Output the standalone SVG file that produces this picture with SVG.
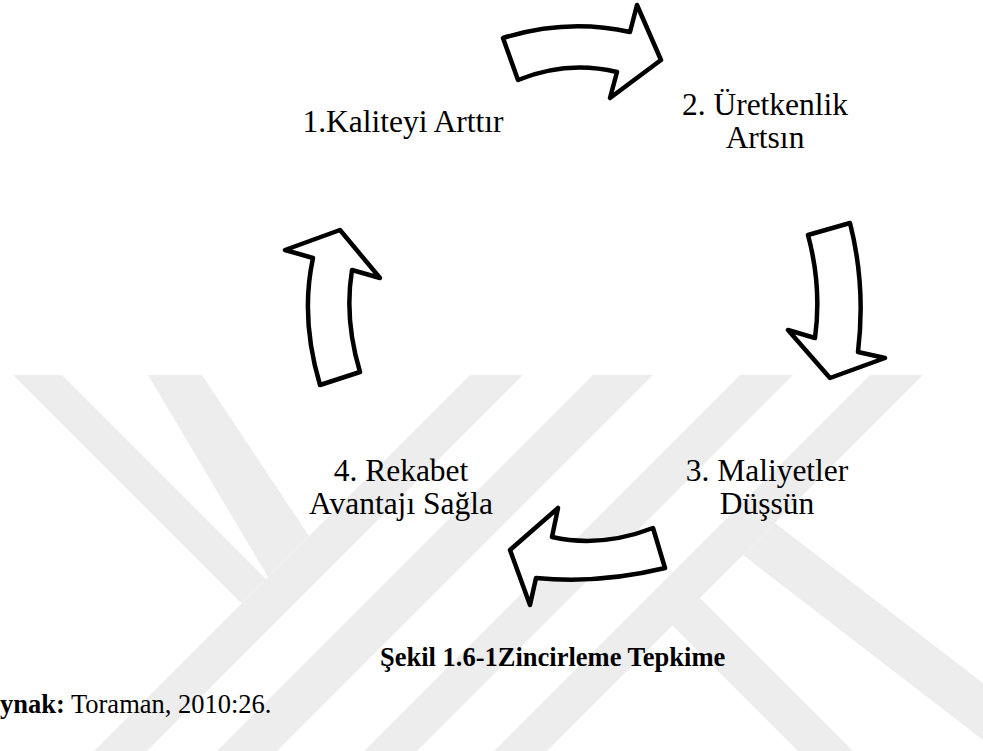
<svg xmlns="http://www.w3.org/2000/svg" width="983" height="751" viewBox="0 0 983 751">
  <style>
    .wm { fill: #ededed; stroke: none; }
    .lbl { font-family: "Liberation Serif", "Times New Roman", serif; font-size: 31.5px; fill: #000; text-anchor: middle; }
    .cap { font-family: "Liberation Serif", "Times New Roman", serif; font-size: 26.5px; fill: #000; }
    .arrow { fill: #fff; stroke: #000; stroke-width: 4.5; stroke-linejoin: round; }
  </style>
  <rect x="0" y="0" width="983" height="751" fill="#fff"/>
  <g id="watermark">
    <polygon class="wm" points="13,375 62,375 266,579 241.5,603.5"/>
    <polygon class="wm" points="148,375 202,375 309,536 268,577"/>
    <polygon class="wm" points="470,375 523,375 147,751 94,751"/>
    <polygon class="wm" points="593,375 653,375 277,751 217,751"/>
    <polygon class="wm" points="740,375 793,375 417,751 364,751"/>
    <polygon class="wm" points="870,375 923,375 547,751 494,751"/>
    <polygon class="wm" points="700,598 853,751 798,751 670.5,623.5"/>
    <polygon class="wm" points="775,523 983,683 983,740 743,555"/>
  </g>
  <g id="connectors">
    <path id="arrow-1-2" class="arrow" d="M503,38 Q567,18 630,32 L637,5 L661,60 L610,98 L617,72 Q567,60 518,80 Z"/>
    <path id="arrow-2-3" class="arrow" d="M808,235 L850,223 Q866,286 858,352 L885,358 L830,378 L788,330 L815,338 Q822,287 808,235 Z"/>
    <path id="arrow-3-4" class="arrow" d="M510,550 L558,508 L552,537 Q601,548 653,528 L665,568 Q600,584 536,578 L530,605 Z"/>
    <path id="arrow-4-1" class="arrow" d="M320,385 L360,372 Q344,319 352,270 L380,278 L340,230 L285,250 L313,258 Q300,318 320,385 Z"/>
  </g>
  <g id="node-1">
    <text class="lbl" x="403" y="132">1.Kaliteyi Arttır</text>
  </g>
  <g id="node-2">
    <text class="lbl" x="765" y="115">2. Üretkenlik</text>
    <text class="lbl" x="765" y="148">Artsın</text>
  </g>
  <g id="node-3">
    <text class="lbl" x="767" y="481">3. Maliyetler</text>
    <text class="lbl" x="767" y="514">Düşsün</text>
  </g>
  <g id="node-4">
    <text class="lbl" x="401" y="481">4. Rekabet</text>
    <text class="lbl" x="401" y="514">Avantajı Sağla</text>
  </g>
  <g id="caption">
    <text class="cap" x="380" y="666" font-weight="bold">Şekil 1.6-1Zincirleme Tepkime</text>
  </g>
  <g id="source">
    <text class="cap" x="0" y="713"><tspan font-weight="bold">ynak:</tspan> Toraman, 2010:26.</text>
  </g>
</svg>
